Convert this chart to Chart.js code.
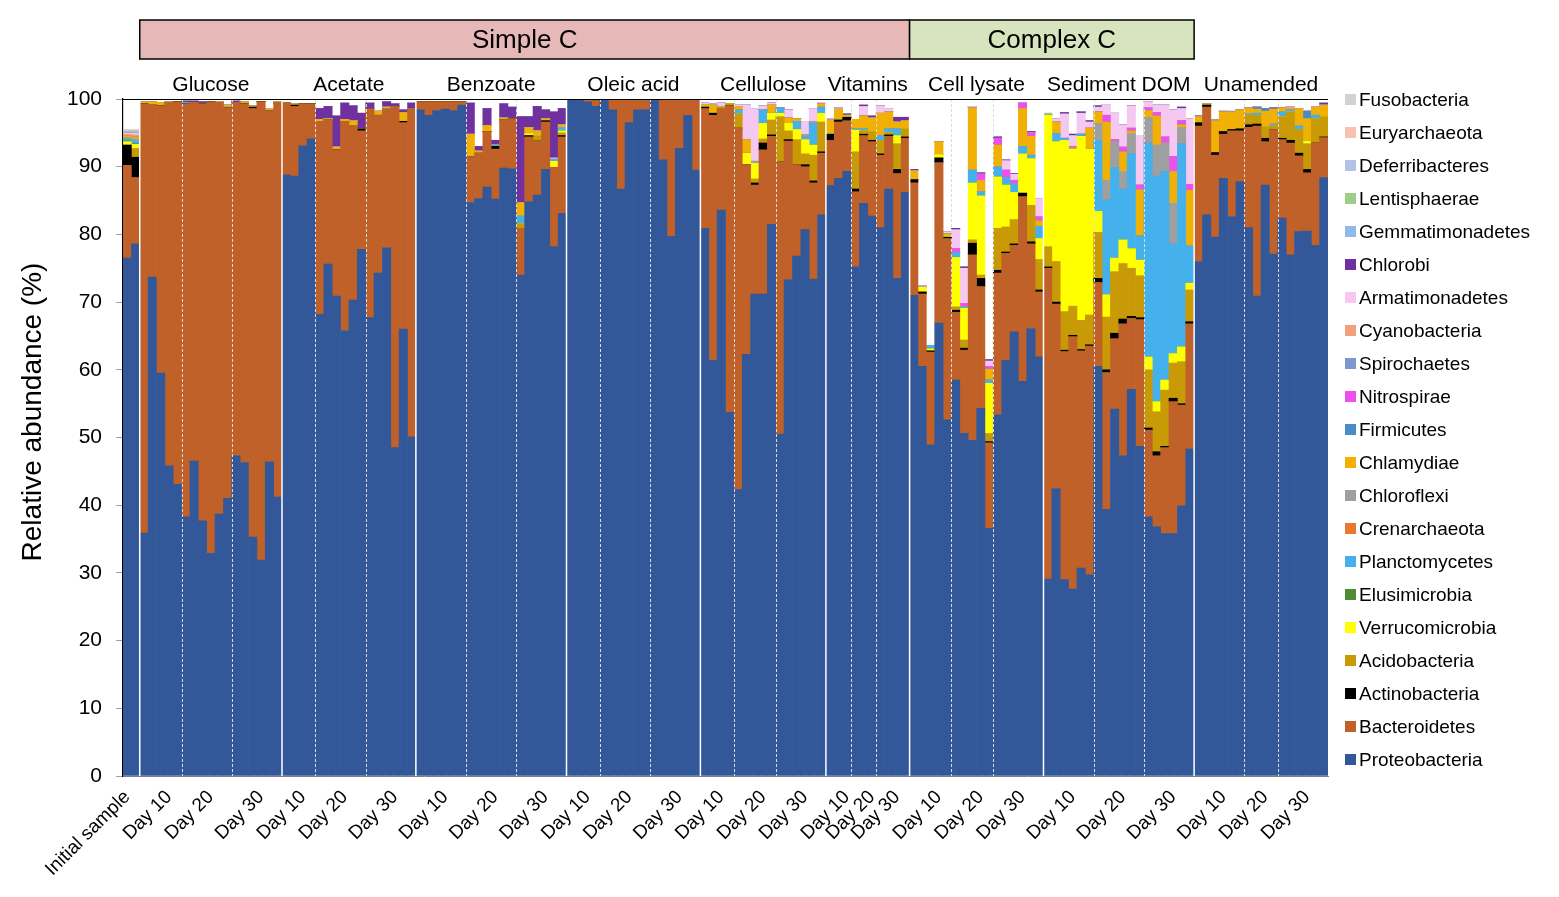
<!DOCTYPE html>
<html>
<head>
<meta charset="utf-8">
<title>Relative abundance</title>
<script src="https://cdn.jsdelivr.net/npm/chart.js@4.4.1/dist/chart.umd.min.js"></script>
<style>
  html, body { margin: 0; padding: 0; background: #fff; }
  canvas { display: block; }
</style>
</head>
<body>
<canvas id="abundance" width="1559" height="897"></canvas>
<script>
// bar layout: 2 initial bars, then each treatment split into Day 10 / 20 / 30
const initialLabel = "Initial sample";
const initialCount = 2;
const treatments = ["Glucose", "Acetate", "Benzoate", "Oleic acid", "Cellulose",
  "Vitamins", "Cell lysate", "Sediment DOM", "Unamended"];
const dayNames = ["Day 10", "Day 20", "Day 30"];
const barsPerDay = [[5, 6, 6], [4, 6, 6], [6, 6, 6], [4, 6, 6], [4, 5, 6],
  [3, 3, 4], [5, 5, 6], [6, 6, 6], [6, 4, 6]];
const carbonTypes = ["Simple C", "Complex C"];
const carbonSpan = [6, 2]; // treatments per carbon type

// values per bar, one line per group:
// initial(2) glucose(17) acetate(16) benzoate(18) oleic(16) cellulose(15)
// vitamins(10) cell lysate(16) sediment DOM(18) unamended(16)
const proteobacteria = [
  76.5, 78.6,
  35.9, 73.7, 59.5, 45.8, 43.1, 38.3, 46.5, 37.7, 32.9, 38.7, 41.0, 47.3, 46.3, 35.3, 31.9, 46.4, 41.2,
  88.8, 88.6, 93.1, 94.1, 68.2, 75.6, 70.9, 65.8, 70.3, 77.8, 67.7, 74.3, 78.0, 48.5, 66.0, 50.1,
  98.4, 97.6, 98.3, 98.5, 98.3, 99.1, 84.7, 85.3, 87.0, 85.2, 89.8, 89.7, 74.0, 84.8, 85.8, 89.6, 78.2, 83.1,
  99.9, 99.8, 99.6, 98.9, 99.8, 98.4, 86.7, 96.5, 98.4, 98.4, 99.9, 91.0, 79.7, 92.7, 97.6, 89.5,
  80.9, 61.4, 83.6, 53.7, 42.3, 62.3, 71.2, 71.2, 81.5, 50.5, 73.3, 76.8, 80.7, 73.4, 82.9,
  87.2, 88.3, 89.3, 75.2, 84.6, 82.7, 81.0, 86.7, 73.5, 86.2,
  71.0, 60.5, 48.9, 66.9, 52.6, 58.5, 50.6, 49.6, 54.3, 36.6, 53.4, 61.4, 65.6, 58.3, 66.1, 61.9,
  29.1, 42.4, 29.0, 27.6, 30.7, 29.7, 60.5, 39.4, 54.2, 47.3, 57.1, 48.7, 38.3, 36.8, 35.8, 35.8, 39.9, 48.3,
  76.0, 82.9, 79.6, 88.3, 82.6, 87.8, 81.0, 70.9, 87.3, 77.1, 82.4, 77.0, 80.4, 80.5, 78.4, 88.4
];
const bacteroidetes = [
  13.7, 9.8,
  63.4, 25.5, 39.5, 53.7, 56.5, 61.0, 53.0, 61.6, 66.7, 60.8, 57.7, 52.2, 53.0, 63.3, 67.7, 51.9, 58.2,
  10.6, 10.3, 6.2, 5.2, 28.5, 21.3, 21.6, 30.9, 25.7, 17.5, 30.9, 23.3, 20.5, 50.4, 30.5, 48.4,
  1.2, 2.0, 1.3, 1.1, 1.3, 0.5, 6.8, 6.7, 8.2, 7.4, 7.1, 7.4, 6.9, 9.6, 8.0, 7.0, 11.7, 11.3,
  0, 0, 0.2, 0.8, 0, 1.4, 13.1, 3.3, 1.4, 1.5, 0, 8.8, 20.1, 7.1, 2.2, 10.3,
  17.7, 36.2, 14.9, 45.3, 53.4, 28.0, 16.1, 21.3, 13.0, 40.2, 20.5, 13.5, 9.3, 14.2, 9.1,
  6.7, 8.3, 7.5, 11.1, 10.0, 11.0, 10.7, 7.8, 15.5, 8.0,
  16.6, 10.7, 13.7, 23.7, 26.8, 10.0, 12.3, 27.4, 18.0, 12.6, 20.9, 15.8, 12.8, 27.3, 12.5, 9.6,
  45.9, 27.3, 33.7, 37.3, 32.1, 33.8, 12.4, 20.2, 10.4, 19.5, 10.5, 18.7, 12.8, 10.5, 12.7, 19.5, 14.9, 18.5,
  20.0, 15.9, 12.1, 6.5, 12.7, 7.5, 14.8, 25.1, 6.4, 18.4, 11.6, 16.5, 11.2, 8.6, 15.1, 5.9
];
const actinobacteria = [
  3.0, 3.0,
  0, 0, 0, 0, 0, 0, 0, 0, 0, 0, 0, 0, 0, 0.2, 0, 0, 0,
  0, 0.2, 0, 0, 0, 0, 0, 0, 0, 0.3, 0, 0, 0, 0, 0.2, 0,
  0, 0, 0, 0, 0, 0, 0, 0, 0, 0.4, 0, 0, 0, 0.2, 0, 0.2, 0, 0.2,
  0, 0, 0, 0, 0, 0, 0, 0, 0, 0, 0, 0, 0, 0, 0, 0,
  0.2, 0.3, 0, 0, 0, 0, 0.3, 1.0, 0.2, 0, 0.2, 0, 0.3, 0.3, 0.2,
  0.9, 0.3, 0.5, 0.4, 0.2, 0.2, 0.2, 0.2, 0.6, 0.2,
  0.5, 0.3, 0.2, 0.7, 0.2, 0.3, 0.3, 1.7, 1.2, 0.2, 0.4, 0.2, 0.2, 0.5, 0.3, 0.3,
  0.2, 0.3, 0.2, 0.2, 0.2, 0.2, 0.6, 0.4, 0.8, 0.7, 0.3, 0.3, 0.3, 0.6, 0.2, 0.5, 0.2, 0.3,
  0.5, 0.3, 0.4, 0.4, 0.2, 0.3, 0.4, 0.3, 0.5, 0, 0.2, 0.4, 0.4, 0.5, 0, 0.1
];
const acidobacteria = [
  0, 1.3,
  0, 0, 0, 0, 0, 0, 0, 0, 0, 0, 0, 0, 0, 0, 0, 0, 0,
  0, 0, 0, 0, 0, 0, 0, 0, 0, 0, 0, 0, 0, 0, 0, 0,
  0, 0, 0, 0, 0, 0, 0, 0, 0, 0, 0, 0, 0.7, 0, 0.7, 0, 0, 0.4,
  0, 0, 0, 0, 0, 0, 0, 0, 0, 0, 0, 0, 0, 0, 0, 0,
  0, 0, 0.3, 0.3, 2.1, 0, 0.6, 0.6, 2.2, 6.7, 1.3, 3.7, 1.6, 3.8, 4.4,
  0, 0, 0, 5.5, 0.5, 1.3, 2.0, 0.3, 3.8, 1.2,
  0, 0, 0, 0, 0, 0.5, 1.2, 0.5, 0.5, 1.2, 6.2, 3.7, 3.6, 0, 5.4, 4.5,
  3.0, 6.0, 5.7, 4.3, 4.3, 4.4, 6.8, 7.8, 9.1, 8.2, 7.1, 6.2, 8.6, 5.9, 8.3, 5.2, 6.2, 4.7,
  0, 0, 0, 0, 0, 0, 1.4, 1.3, 1.7, 0.6, 3.2, 4.2, 3.5, 3.8, 3.6, 3.0
];
const verrucomicrobia = [
  0.5, 0.6,
  0, 0, 0, 0, 0, 0, 0, 0, 0, 0, 0, 0, 0, 0, 0, 0, 0,
  0, 0, 0, 0, 0, 0, 0, 0, 0, 0, 0, 0, 0, 0, 0, 0,
  0, 0, 0, 0, 0, 0, 0, 0, 0, 0, 0, 0, 0, 0.3, 0, 0, 0.9, 0.3,
  0, 0, 0, 0, 0, 0, 0, 0, 0, 0, 0, 0, 0, 0, 0, 0,
  0, 0, 0, 0, 0, 1.7, 2.3, 2.3, 1.0, 0.5, 1.1, 1.5, 2.1, 1.5, 1.3,
  0, 0, 0, 3.2, 0, 0, 0, 0, 1.2, 0,
  0, 0.7, 0.3, 0.5, 0.2, 7.3, 4.7, 8.4, 11.7, 7.4, 7.6, 6.2, 4.0, 5.8, 6.9, 3.1,
  19.4, 17.7, 25.3, 23.2, 27.2, 24.5, 3.1, 3.3, 2.0, 3.5, 2.9, 2.3, 1.9, 1.5, 1.5, 1.4, 2.2, 1.0,
  0, 0, 0, 0, 0, 0, 0, 0, 0, 0, 0, 0, 0, 0.4, 0, 0
];
const elusimicrobia = [
  0.1, 0.1,
  0, 0, 0, 0, 0, 0, 0, 0, 0, 0, 0, 0, 0, 0, 0, 0, 0,
  0, 0, 0, 0, 0, 0, 0, 0, 0, 0, 0, 0, 0, 0, 0, 0,
  0, 0, 0, 0, 0, 0, 0, 0, 0, 0, 0, 0, 0, 0, 0, 0, 0, 0,
  0, 0, 0, 0, 0, 0, 0, 0, 0, 0, 0, 0, 0, 0, 0, 0,
  0, 0, 0, 0, 0, 0, 0, 0, 0, 0, 0, 0, 0, 0, 0,
  0, 0, 0, 0, 0, 0, 0, 0, 0, 0,
  0, 0, 0, 0, 0, 0, 0, 0, 0, 0, 0, 0, 0, 0, 0, 0,
  0, 0, 0, 0, 0, 0, 0, 0, 0, 0, 0, 0, 0, 0, 0, 0, 0, 0,
  0, 0, 0, 0, 0, 0, 0, 0, 0, 0, 0, 0, 0, 0, 0, 0
];
const planctomycetes = [
  0.3, 0.4,
  0, 0, 0, 0, 0, 0.2, 0, 0, 0, 0, 0.1, 0, 0, 0, 0, 0, 0,
  0, 0, 0, 0, 0, 0, 0, 0, 0, 0, 0, 0, 0, 0, 0, 0,
  0, 0, 0, 0, 0, 0, 0, 0, 0, 0.2, 0, 0, 1.1, 0, 0, 0, 0.3, 0.5,
  0, 0, 0, 0, 0, 0, 0, 0, 0, 0, 0, 0, 0, 0, 0, 0,
  0, 0, 0, 0, 0.6, 0, 0, 2.0, 0, 0.8, 0, 1.2, 0.4, 3.2, 0.9,
  0, 0, 0, 0.2, 0.3, 0, 0.7, 0.6, 1.0, 0,
  0, 0, 0.5, 0, 0, 0.7, 0.2, 1.9, 0.6, 0.5, 1.5, 1.1, 1.3, 1.1, 0.5, 1.8,
  0, 1.2, 0.3, 0, 0.3, 0, 10.5, 14.0, 13.4, 7.5, 14.0, 3.6, 31.6, 33.3, 30.8, 16.2, 30.0, 5.5,
  0, 0, 0, 0, 0, 0, 0.2, 0.3, 0, 0.2, 0.7, 0.3, 0.5, 0, 0.5, 0
];
const crenarchaeota = [
  0, 0,
  0, 0, 0, 0, 0, 0, 0, 0, 0, 0, 0, 0, 0, 0, 0, 0, 0,
  0, 0, 0, 0, 0, 0, 0, 0, 0, 0, 0, 0, 0, 0, 0, 0,
  0, 0, 0, 0, 0, 0, 0, 0, 0, 0, 0, 0, 0, 0, 0, 0, 0, 0,
  0, 0, 0, 0, 0, 0, 0, 0, 0, 0, 0, 0, 0, 0, 0, 0,
  0, 0, 0, 0, 0, 0, 0, 0, 0, 0, 0, 0, 0, 0, 0,
  0, 0, 0, 0, 0, 0, 0, 0, 0, 0,
  0, 0, 0, 0, 0, 0, 0, 0, 0, 0, 0, 0, 0, 0, 0, 0,
  0, 0, 0, 0, 0, 0, 0, 0, 0, 0, 0, 0, 0, 0, 0, 0, 0, 0,
  0, 0, 0, 0, 0, 0, 0, 0, 0, 0, 0, 0, 0, 0, 0, 0
];
const chloroflexi = [
  0.2, 0.3,
  0, 0, 0, 0, 0, 0, 0, 0, 0, 0, 0, 0, 0, 0, 0, 0, 0,
  0, 0, 0, 0, 0, 0, 0, 0, 0, 0, 0, 0, 0, 0, 0, 0,
  0, 0, 0, 0, 0, 0, 0, 0, 0, 0, 0, 0, 0, 0, 0, 0, 0, 0,
  0, 0, 0, 0, 0, 0, 0, 0, 0, 0, 0, 0, 0, 0, 0, 0,
  0, 0, 0, 0, 0, 0, 0.3, 0, 0, 0, 0, 0, 0.3, 0.2, 0,
  0, 0, 0, 0, 0, 0, 0, 0, 0, 0,
  0, 0, 0, 0, 0, 0, 0, 0, 0, 0, 0, 0, 0, 0, 0, 0,
  0, 0, 0, 0, 0, 0, 2.5, 2.9, 3.8, 2.6, 3.0, 0, 3.8, 4.6, 4.2, 6.0, 2.4, 0,
  0, 0, 0, 0, 0, 0, 0, 0, 0, 0, 0, 0, 0, 0, 0, 0
];
const chlamydiae = [
  0.3, 0.3,
  0.3, 0.4, 0.5, 0.1, 0, 0, 0, 0, 0, 0.1, 0.3, 0, 0.3, 0.2, 0, 0.2, 0.2,
  0, 0.2, 0, 0, 0.3, 0.2, 0.4, 0.3, 0.8, 0, 0, 0.6, 0.3, 0, 1.3, 0,
  0, 0, 0, 0, 0, 0, 3.3, 0.3, 0.9, 0, 0.3, 0, 2.0, 0.9, 0.8, 0.3, 0, 0.4,
  0, 0, 0, 0, 0, 0, 0, 0, 0, 0, 0, 0, 0, 0, 0, 0,
  0.4, 1.2, 0, 0, 0.5, 2.0, 0, 0, 1.2, 0, 0.8, 0.4, 0, 0, 0.5,
  2.1, 1.6, 0.3, 1.4, 1.9, 2.0, 3.3, 2.5, 1.0, 1.2,
  1.3, 0, 0, 1.9, 0.3, 0, 0, 9.2, 1.7, 1.6, 3.2, 0, 0, 5.6, 2.8, 0.8,
  0, 1.7, 0, 0.2, 0, 3.1, 1.7, 8.6, 0, 2.9, 0.4, 6.8, 1.0, 4.3, 0, 4.7, 0.4, 8.2,
  0.9, 0.2, 4.7, 2.9, 2.6, 2.8, 0.9, 0.6, 2.3, 2.2, 0.6, 0, 2.6, 3.3, 1.2, 1.7
];
const firmicutes = [
  0, 0,
  0, 0, 0, 0, 0, 0, 0, 0, 0, 0, 0, 0, 0, 0, 0, 0, 0,
  0, 0, 0, 0, 0, 0, 0, 0, 0, 0, 0, 0, 0, 0, 0, 0,
  0, 0, 0, 0, 0, 0, 0, 0, 0, 0, 0, 0, 0, 0, 0, 0, 0, 0,
  0, 0, 0, 0, 0, 0, 0, 0, 0, 0, 0, 0, 0, 0, 0, 0,
  0, 0, 0, 0, 0, 0, 0, 0, 0, 0, 0, 0, 0, 0, 0,
  0, 0, 0, 0, 0, 0, 0, 0, 0, 0,
  0, 0, 0, 0, 0, 0, 0, 0, 0, 0, 0, 0, 0, 0, 0, 0,
  0, 0, 0, 0, 0, 0, 0, 0, 0, 0, 0, 0, 0, 0, 0, 0, 0, 0,
  0, 0, 0, 0, 0, 0, 0, 0.3, 0.4, 0, 0, 0, 0, 1.1, 0, 0
];
const nitrospirae = [
  0, 0,
  0, 0, 0, 0, 0, 0, 0, 0, 0, 0, 0, 0, 0, 0, 0, 0, 0,
  0, 0, 0, 0, 0, 0, 0, 0, 0, 0, 0, 0, 0, 0, 0, 0,
  0, 0, 0, 0, 0, 0, 0, 0, 0, 0, 0, 0, 0, 0, 0, 0, 0, 0,
  0, 0, 0, 0, 0, 0, 0, 0, 0, 0, 0, 0, 0, 0, 0, 0,
  0, 0, 0, 0, 0, 0, 0, 0, 0, 0, 0, 0, 0, 0, 0,
  0, 0, 0, 0, 0, 0, 0, 0, 0, 0,
  0, 0, 0, 0, 0, 0.6, 0.5, 0, 0.9, 0.4, 1.0, 1.1, 0.5, 0.8, 0.5, 0.6,
  0, 0, 0, 0.2, 0, 0, 0, 1.0, 0.3, 0.7, 0.4, 0.7, 0.4, 0.5, 0.9, 2.2, 0.6, 0.9,
  0, 0, 0, 0, 0, 0, 0, 0, 0, 0, 0, 0, 0, 0, 0, 0
];
const spirochaetes = [
  0, 0,
  0, 0, 0, 0, 0, 0, 0, 0, 0, 0, 0, 0, 0, 0, 0, 0, 0,
  0, 0, 0, 0, 0, 0, 0, 0, 0, 0, 0, 0, 0, 0, 0, 0,
  0, 0, 0, 0, 0, 0, 0, 0, 0, 0, 0, 0, 0, 0, 0, 0, 0, 0,
  0, 0, 0, 0, 0, 0, 0, 0, 0, 0, 0, 0, 0, 0, 0, 0,
  0, 0, 0, 0, 0, 0, 0, 0, 0, 0, 0, 0, 0, 0, 0,
  0, 0, 0, 0, 0, 0, 0, 0, 0, 0,
  0, 0, 0, 0, 0, 0, 0, 0, 0, 0, 0, 0, 0, 0, 0, 0,
  0, 0, 0, 0, 0, 0, 0, 0, 0, 0, 0, 0, 0, 0, 0, 0, 0, 0,
  0, 0, 0, 0, 0, 0, 0, 0, 0, 0, 0, 0, 0, 0, 0, 0
];
const cyanobacteria = [
  0.2, 0.3,
  0, 0, 0, 0, 0, 0, 0, 0, 0, 0, 0, 0, 0, 0, 0, 0, 0,
  0, 0, 0, 0, 0, 0, 0, 0, 0, 0, 0, 0, 0, 0, 0, 0,
  0, 0, 0, 0, 0, 0, 0, 0, 0, 0, 0, 0, 0, 0, 0, 0, 0, 0,
  0, 0, 0, 0, 0, 0, 0, 0, 0, 0, 0, 0, 0, 0, 0, 0,
  0, 0, 0, 0, 0, 0, 0, 0, 0, 0, 0, 0, 0, 0, 0,
  0, 0, 0, 0, 0, 0, 0, 0, 0, 0,
  0, 0, 0, 0, 0, 0, 0, 0, 0, 0, 0, 0, 0, 0, 0, 0,
  0, 0, 0, 0, 0, 0, 0, 0, 0, 0, 0, 0, 0, 0, 0, 0, 0, 0,
  0, 0, 0, 0, 0, 0, 0, 0, 0, 0, 0, 0.5, 0, 0, 0, 0
];
const armatimonadetes = [
  0.2, 0.3,
  0, 0, 0, 0, 0, 0, 0, 0, 0, 0, 0, 0, 0, 0, 0, 0, 0,
  0, 0, 0, 0, 0, 0, 0, 0, 0, 0, 0, 0, 0, 0, 0, 0,
  0, 0, 0, 0, 0, 0, 0, 0, 0, 0, 0, 0, 0, 0, 0, 0, 0.2, 0,
  0, 0.1, 0, 0, 0, 0, 0, 0, 0, 0, 0, 0, 0, 0, 0, 0,
  0.2, 0.2, 0.6, 0, 0.2, 5.1, 7.8, 0.6, 0.3, 0, 1.2, 0, 2.0, 2.0, 0.2,
  0.2, 0.2, 0, 0, 1.4, 0, 1.1, 0.5, 0, 0,
  0, 0.2, 0, 0, 0.3, 2.8, 5.2, 0.2, 0, 0.8, 0, 1.4, 0.9, 0, 0, 2.7,
  0, 0.5, 3.6, 1.6, 3.1, 0.9, 0.7, 1.6, 3.9, 3.3, 3.3, 7.2, 0.9, 1.1, 4.7, 6.9, 1.8, 9.7,
  0, 0, 0, 0, 0, 0, 0, 0, 0, 0, 0, 0, 0, 0, 0, 0
];
const chlorobi = [
  0, 0,
  0, 0, 0, 0, 0, 0.2, 0.2, 0.3, 0, 0, 0, 0.2, 0, 0, 0, 0, 0,
  0, 0, 0, 0, 1.6, 1.8, 4.6, 2.4, 2.2, 2.3, 0.8, 0, 0.8, 0.4, 0.4, 0.9,
  0, 0, 0, 0, 0, 0, 4.6, 0.7, 2.5, 0.7, 2.1, 1.7, 12.7, 1.6, 3.6, 1.3, 6.8, 2.4,
  0, 0, 0, 0, 0, 0, 0, 0, 0, 0, 0, 0, 0, 0, 0, 0,
  0, 0, 0, 0, 0, 0, 0, 0, 0, 0, 0, 0, 0, 0, 0,
  0, 0, 0.2, 0, 0.2, 0.3, 0, 0, 0.7, 0.5,
  0.2, 0, 0, 0, 0, 0.2, 0.2, 0, 0.2, 0.2, 0.2, 0.1, 0.1, 0, 0.2, 0,
  0, 0, 0.2, 0.2, 0.2, 0.2, 0.2, 0, 0, 0, 0, 0, 0, 0, 0, 0, 0.2, 0,
  0.1, 0, 0.1, 0.1, 0, 0, 0, 0, 0, 0.2, 0, 0, 0, 0, 0, 0.3
];
const gemmatimonadetes = [
  0.1, 0.1,
  0, 0, 0, 0, 0, 0, 0, 0, 0, 0, 0, 0, 0, 0, 0, 0, 0,
  0, 0, 0, 0, 0, 0, 0, 0, 0, 0, 0, 0, 0, 0, 0, 0,
  0, 0, 0, 0, 0, 0, 0, 0, 0, 0, 0, 0, 0, 0, 0, 0, 0, 0,
  0, 0, 0, 0, 0, 0, 0, 0, 0, 0, 0, 0, 0, 0, 0, 0,
  0, 0, 0, 0, 0, 0, 0, 0, 0, 0, 0, 0, 0, 0, 0,
  0, 0, 0, 0, 0, 0, 0, 0, 0, 0,
  0, 0, 0, 0, 0, 0, 0, 0, 0, 0, 0, 0, 0, 0, 0, 0,
  0, 0, 0, 0, 0, 0, 0, 0, 0, 0, 0, 0, 0, 0, 0, 0, 0, 0,
  0, 0, 0, 0, 0.1, 0, 0, 0, 0, 0, 0, 0, 0, 0, 0, 0
];
const lentisphaerae = [
  0.1, 0.1,
  0, 0, 0, 0, 0, 0, 0, 0, 0, 0, 0, 0, 0, 0, 0, 0, 0,
  0, 0, 0, 0, 0, 0, 0, 0, 0, 0, 0, 0, 0, 0, 0, 0,
  0, 0, 0, 0, 0, 0, 0, 0, 0, 0, 0, 0, 0, 0, 0, 0, 0, 0,
  0, 0, 0, 0, 0, 0, 0, 0, 0, 0, 0, 0, 0, 0, 0, 0,
  0, 0, 0, 0, 0, 0, 0, 0, 0, 0, 0, 0, 0, 0, 0,
  0, 0, 0, 0, 0, 0, 0, 0, 0, 0,
  0, 0, 0, 0, 0, 0, 0, 0, 0, 0, 0, 0, 0, 0, 0, 0,
  0.3, 0, 0, 0, 0, 0, 0, 0, 0, 0, 0, 0, 0, 0, 0, 0, 0, 0,
  0, 0, 0, 0, 0, 0, 0, 0, 0, 0, 0, 0, 0, 0, 0, 0
];
const deferribacteres = [
  0.1, 0.1,
  0, 0, 0, 0, 0, 0, 0, 0, 0, 0, 0, 0, 0, 0, 0, 0, 0,
  0, 0, 0, 0, 0, 0, 0, 0, 0, 0, 0, 0, 0, 0, 0, 0,
  0, 0, 0, 0, 0, 0, 0, 0, 0, 0, 0, 0, 0, 0, 0, 0, 0, 0,
  0, 0, 0, 0, 0, 0, 0, 0, 0, 0, 0, 0, 0, 0, 0, 0,
  0, 0, 0, 0, 0, 0, 0, 0, 0, 0, 0, 0, 0, 0, 0,
  0, 0, 0, 0, 0, 0, 0, 0, 0, 0,
  0, 0, 0, 0, 0, 0, 0, 0, 0, 0, 0, 0, 0, 0, 0, 0,
  0, 0, 0, 0, 0, 0, 0, 0, 0, 0, 0, 0, 0, 0, 0, 0, 0, 0,
  0, 0, 0, 0, 0, 0, 0, 0, 0, 0, 0, 0, 0, 0, 0, 0
];
const euryarchaeota = [
  0.1, 0.1,
  0, 0, 0, 0, 0, 0, 0, 0, 0, 0, 0, 0, 0, 0, 0, 0, 0,
  0, 0, 0, 0, 0, 0, 0, 0, 0, 0, 0, 0, 0, 0, 0, 0,
  0, 0, 0, 0, 0, 0, 0, 0, 0, 0, 0, 0, 0, 0, 0, 0, 0, 0,
  0, 0, 0, 0, 0, 0, 0, 0, 0, 0, 0, 0, 0, 0, 0, 0,
  0, 0, 0, 0, 0, 0, 0, 0, 0, 0, 0, 0, 0, 0, 0,
  0, 0, 0, 0, 0, 0, 0, 0, 0, 0,
  0, 0, 0, 0, 0, 0, 0, 0, 0, 0, 0, 0, 0, 0, 0, 0,
  0, 0, 0, 0, 0, 0, 0, 0, 0, 0, 0, 0, 0, 0, 0, 0, 0, 0,
  0, 0, 0, 0, 0, 0, 0, 0, 0, 0, 0, 0, 0, 0, 0, 0
];
const fusobacteria = [
  0.1, 0.1,
  0, 0, 0, 0, 0, 0, 0, 0, 0, 0, 0, 0, 0, 0, 0, 0, 0,
  0, 0, 0, 0, 0, 0, 0, 0, 0, 0, 0, 0, 0, 0, 0, 0,
  0, 0, 0, 0, 0, 0, 0, 0, 0, 0, 0, 0, 0, 0, 0, 0, 0, 0,
  0, 0, 0, 0, 0, 0, 0, 0, 0, 0, 0, 0, 0, 0, 0, 0,
  0, 0, 0, 0, 0, 0, 0, 0, 0, 0, 0, 0, 0, 0, 0,
  0, 0, 0, 0, 0, 0, 0, 0, 0, 0,
  0, 0, 0, 0, 0, 0, 0, 0, 0, 0, 0, 0, 0, 0, 0, 0,
  0, 0, 0, 0, 0, 0, 0, 0, 0, 0, 0, 0, 0, 0, 0, 0, 0, 0,
  0, 0, 0, 0, 0, 0, 0, 0, 0, 0, 0, 0, 0, 0, 0, 0
];

const yTicks = [0, 10, 20, 30, 40, 50, 60, 70, 80, 90, 100];

// stacking order, bottom first
const phyla = [
  ["Proteobacteria", proteobacteria],
  ["Bacteroidetes", bacteroidetes],
  ["Actinobacteria", actinobacteria],
  ["Acidobacteria", acidobacteria],
  ["Verrucomicrobia", verrucomicrobia],
  ["Elusimicrobia", elusimicrobia],
  ["Planctomycetes", planctomycetes],
  ["Crenarchaeota", crenarchaeota],
  ["Chloroflexi", chloroflexi],
  ["Chlamydiae", chlamydiae],
  ["Firmicutes", firmicutes],
  ["Nitrospirae", nitrospirae],
  ["Spirochaetes", spirochaetes],
  ["Cyanobacteria", cyanobacteria],
  ["Armatimonadetes", armatimonadetes],
  ["Chlorobi", chlorobi],
  ["Gemmatimonadetes", gemmatimonadetes],
  ["Lentisphaerae", lentisphaerae],
  ["Deferribacteres", deferribacteres],
  ["Euryarchaeota", euryarchaeota],
  ["Fusobacteria", fusobacteria],
];

const colors = {
  Proteobacteria: "#325899", Bacteroidetes: "#bf6128", Actinobacteria: "#000000",
  Acidobacteria: "#c89b06", Verrucomicrobia: "#ffff00", Elusimicrobia: "#4f8a34",
  Planctomycetes: "#45b1ec", Crenarchaeota: "#e8782e", Chloroflexi: "#9f9f9f",
  Chlamydiae: "#f1b104", Firmicutes: "#4a8bc8", Nitrospirae: "#ee50ee",
  Spirochaetes: "#7f97cf", Cyanobacteria: "#f2a07c", Armatimonadetes: "#f5c8f1",
  Chlorobi: "#7030a0", Gemmatimonadetes: "#8fb9e6", Lentisphaerae: "#9fcd87",
  Deferribacteres: "#b3c3e3", Euryarchaeota: "#f8c0b0", Fusobacteria: "#d2d2d2",
};

const FONT = "'Liberation Sans', Arial, Helvetica, sans-serif";

// x labels and group edges from the layout
const labels = [initialLabel];
for (let k = 1; k < initialCount; k++) labels.push("");
const groupStarts = [];
const dayStarts = [];
let pos = initialCount;
barsPerDay.forEach((days) => {
  groupStarts.push(pos);
  days.forEach((count, d) => {
    if (d > 0) dayStarts.push(pos);
    const pick = count % 2 ? (count + 1) / 2 : count / 2;
    for (let k = 0; k < count; k++) labels.push(k === pick ? dayNames[d] : "");
    pos += count;
  });
});
groupStarts.push(pos);

const bad = phyla.filter(([, v]) => v.length !== labels.length).map(([n, v]) => n + ":" + v.length);
if (bad.length) throw new Error("wrong lengths " + bad.join(", ") + " expected " + labels.length);

const datasets = phyla.map(([name, values]) => ({
  label: name,
  data: values,
  backgroundColor: colors[name],
  borderWidth: 0,
  barPercentage: 1,
  categoryPercentage: 1,
}));

const decor = {
  id: "decor",
  afterDatasetsDraw(chart) {
    const { ctx, chartArea: a, scales: { x } } = chart;
    const edge = (i) => (x.getPixelForValue(i - 1) + x.getPixelForValue(i)) / 2;
    const vline = (px) => {
      ctx.beginPath();
      ctx.moveTo(px, a.top);
      ctx.lineTo(px, a.bottom);
      ctx.stroke();
    };
    ctx.save();
    ctx.strokeStyle = "#dcdcdc";
    ctx.lineWidth = 1;
    ctx.setLineDash([3, 2]);
    dayStarts.forEach((i) => vline(Math.round(edge(i)) + 0.5));
    ctx.setLineDash([]);
    ctx.strokeStyle = "#ffffff";
    ctx.lineWidth = 1.5;
    groupStarts.slice(0, -1).forEach((i) => vline(edge(i)));
    // top frame
    ctx.strokeStyle = "#000";
    ctx.lineWidth = 1.2;
    ctx.beginPath();
    ctx.moveTo(a.left, a.top + 0.5);
    ctx.lineTo(a.right, a.top + 0.5);
    ctx.stroke();
    ctx.restore();
  },
  afterDraw(chart) {
    const { ctx, chartArea: a } = chart;
    const edge = (i) => (chart.scales.x.getPixelForValue(i - 1) + chart.scales.x.getPixelForValue(i)) / 2;
    ctx.save();
    ctx.fillStyle = "#000";
    ctx.textBaseline = "middle";

    // carbon type boxes
    const boxFill = ["#e6b8b7", "#d7e4bd"];
    let t = 0;
    carbonTypes.forEach((name, c) => {
      const x0 = edge(groupStarts[t]);
      t += carbonSpan[c];
      const x1 = edge(groupStarts[t]);
      ctx.fillStyle = boxFill[c];
      ctx.fillRect(x0, 20, x1 - x0, 39);
      ctx.strokeStyle = "#000";
      ctx.lineWidth = 1.5;
      ctx.strokeRect(x0, 20, x1 - x0, 39);
      ctx.fillStyle = "#000";
      ctx.font = "26px " + FONT;
      ctx.textAlign = "center";
      ctx.fillText(name, (x0 + x1) / 2, 41);
    });

    // treatment names
    ctx.font = "21px " + FONT;
    ctx.textAlign = "center";
    treatments.forEach((name, g) => {
      const x0 = edge(groupStarts[g]);
      const x1 = groupStarts[g + 1] >= labels.length ? a.right : edge(groupStarts[g + 1]);
      ctx.fillText(name, (x0 + x1) / 2, 85);
    });

    // y axis title
    ctx.save();
    ctx.translate(33, 412);
    ctx.rotate(-Math.PI / 2);
    ctx.font = "28px " + FONT;
    ctx.fillText("Relative abundance (%)", 0, 0);
    ctx.restore();

    // legend, top item is the top of the stack
    ctx.font = "19px " + FONT;
    ctx.textAlign = "left";
    chart.data.datasets.slice().reverse().forEach((ds, k) => {
      const cy = 100 + k * 33;
      ctx.fillStyle = ds.backgroundColor;
      ctx.fillRect(1345, cy - 6, 11, 11);
      ctx.fillStyle = "#000";
      ctx.fillText(ds.label, 1359, cy + 1);
    });
    ctx.restore();
  },
};

new Chart(document.getElementById("abundance"), {
  type: "bar",
  data: { labels, datasets },
  options: {
    responsive: false,
    animation: false,
    layout: { padding: { left: 0, right: 231, top: 99, bottom: 0 } },
    plugins: { legend: { display: false }, tooltip: { enabled: false } },
    scales: {
      x: {
        stacked: true,
        grid: { display: false },
        border: { display: true, color: "#808080" },
        ticks: {
          autoSkip: false, minRotation: 45, maxRotation: 45,
          font: { family: FONT, size: 19 }, color: "#000", padding: 2,
        },
        afterFit: (s) => { s.height = 121; },
      },
      y: {
        stacked: true,
        min: 0,
        max: 100,
        afterBuildTicks: (s) => { s.ticks = yTicks.map((v) => ({ value: v })); },
        ticks: { font: { family: FONT, size: 21 }, color: "#000", padding: 14 },
        grid: { drawOnChartArea: false, tickLength: 7, color: "#a0a0a0" },
        border: { color: "#000", width: 1.2 },
        afterFit: (s) => { s.width = 123; },
      },
    },
  },
  plugins: [decor],
});
</script>
</body>
</html>
